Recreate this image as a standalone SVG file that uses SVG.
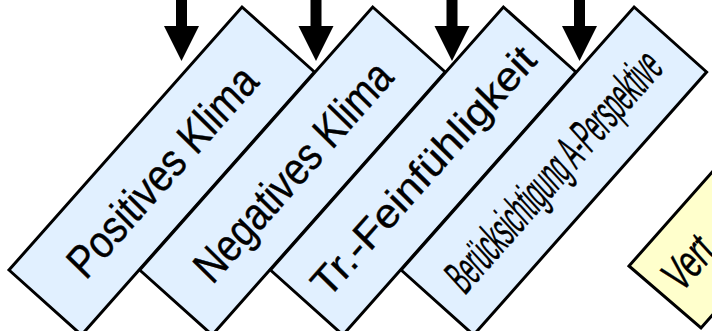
<svg xmlns="http://www.w3.org/2000/svg" width="712" height="331" viewBox="0 0 712 331">
<style>
.box{fill:#E1F0FF;stroke:#000;stroke-width:3;stroke-linejoin:miter}
.ybox{fill:#FFFFCC;stroke:#000;stroke-width:3}
.lbl{font-family:"Liberation Sans",Arial,sans-serif;fill:#000;stroke:#000;stroke-width:0.4;text-anchor:middle}
.arr{fill:#000}
</style>
<rect width="712" height="331" fill="#fff"/>
<g id="node-yellow">
<polygon class="ybox" points="629,266 862,3 934,65 701,328"/>
<text class="lbl" style="text-anchor:start" font-size="46" textLength="54" lengthAdjust="spacingAndGlyphs" transform="translate(681,294) rotate(-48.5) skewX(-6)">Vert</text>
</g>
<g id="node-positives">
<polygon class="box" points="9,270 242,7 314.5,72 81.5,335"/>
<text class="lbl" font-size="45" textLength="264" lengthAdjust="spacingAndGlyphs" transform="translate(161.75,171) rotate(-48.5) skewX(-3)" y="16">Positives Klima</text>
</g>
<g id="node-negatives">
<polygon class="box" points="139.7,270 372.7,7 445.2,72 212.2,335"/>
<text class="lbl" font-size="45" textLength="276" lengthAdjust="spacingAndGlyphs" transform="translate(292.45,171) rotate(-48.5) skewX(-3)" y="16">Negatives Klima</text>
</g>
<g id="node-feinfuehligkeit">
<polygon class="box" points="270.4,270 503.4,7 575.9,72 342.9,335"/>
<text class="lbl" font-size="40" textLength="318" lengthAdjust="spacingAndGlyphs" transform="translate(423.15,171) rotate(-48.5) skewX(-3)" y="14">Tr.-Feinfühligkeit</text>
</g>
<g id="node-beruecksichtigung">
<polygon class="box" points="401.1,270 634.1,7 706.6,72 473.6,335"/>
<text class="lbl" font-size="48" textLength="302" lengthAdjust="spacingAndGlyphs" transform="translate(553.85,171) rotate(-48.5) skewX(-6)" y="16">Berücksichtigung A-Perspektive</text>
</g>
<g id="connectors">
<polygon class="arr" points="176,-2 187,-2 187,26 199,26 181.5,61 164,26 176,26"/>
<polygon class="arr" points="310.5,-2 321.5,-2 321.5,26 333.5,26 316,61 298.5,26 310.5,26"/>
<polygon class="arr" points="446.5,-2 457.5,-2 457.5,26 469.5,26 452,61 434.5,26 446.5,26"/>
<polygon class="arr" points="574,-2 585,-2 585,26 597,26 579.5,61 562,26 574,26"/>
</g>
</svg>
